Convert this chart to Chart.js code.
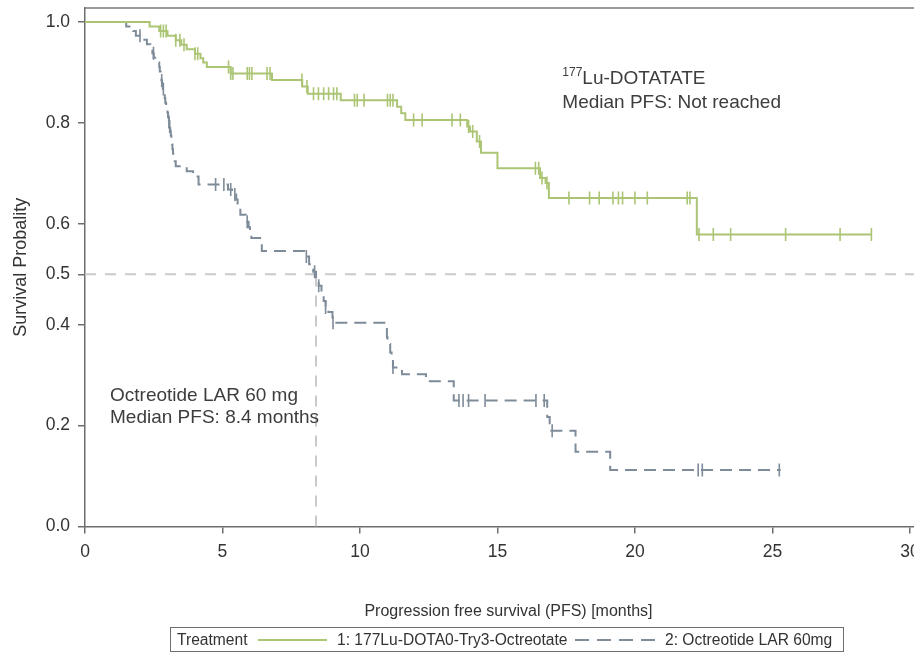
<!DOCTYPE html>
<html>
<head>
<meta charset="utf-8">
<title>Progression free survival</title>
<script src="https://cdn.jsdelivr.net/npm/chart.js@4.4.1/dist/chart.umd.min.js"></script>
<style>
    html, body { margin: 0; padding: 0; background: #fff; overflow: hidden; }
    #wrap { position: relative; width: 914px; height: 652px; overflow: hidden; }
    #kmChart { position: absolute; left: 0; top: 0; }
    #legend {
        position: absolute; left: 170px; top: 627px; width: 672px; height: 23px;
        border: 1px solid #6e6e6e;
        font: 15.6px "Liberation Sans", Arial, Helvetica, sans-serif; color: #333;
    }
    #legend span { position: absolute; top: 0; line-height: 23px; white-space: nowrap; }
    #legend .sw { top: 11px; height: 2px; }
</style>
</head>
<body>
<div id="wrap">
    <canvas id="kmChart" width="940" height="652"></canvas>
    <div id="legend">
        <span style="left:6px">Treatment</span>
        <span class="sw" id="swLu" style="left:87px; width:69px"></span>
        <span style="left:166px">1: 177Lu-DOTA0-Try3-Octreotate</span>
        <span class="sw" id="swOct" style="left:404px; width:84px"></span>
        <span style="left:494px">2: Octreotide LAR 60mg</span>
    </div>
</div>
<script>
const FONT = '"Liberation Sans", Arial, Helvetica, sans-serif';
const luColor = "#abc575";
const octColor = "#7e8b98";
const refColor = "#cacaca";

/* axes */
const xTicks = [0, 5, 10, 15, 20, 25, 30];
const yTicks = [0, 0.2, 0.4, 0.5, 0.6, 0.8, 1.0];
const xMax = 30.8;

/* 177Lu-DOTATATE arm: event times (months) and survival after each step */
const luTimes = [0, 2.35, 2.7, 3.0, 3.3, 3.5, 3.7, 4.0, 4.2, 4.3,
                 4.43, 5.3, 6.8, 7.9, 8.1, 9.3, 11.35, 11.5, 11.65, 13.9,
                 14.0, 14.25, 14.4, 15.0, 16.55, 16.75, 16.87, 22.25, 28.6];
const luSurv  = [1.0, 0.991, 0.982, 0.973, 0.964, 0.955, 0.946, 0.937, 0.928, 0.920,
                 0.911, 0.898, 0.885, 0.872, 0.858, 0.845, 0.832, 0.819, 0.806, 0.793,
                 0.783, 0.763, 0.741, 0.710, 0.691, 0.681, 0.651, 0.579, 0.579];
const luCensor = [2.75, 2.85, 2.95, 3.3, 3.45, 3.6, 4.0, 4.1, 5.22, 5.3, 5.38, 5.9, 5.98,
                  6.07, 6.62, 6.73, 7.89, 8.07, 8.31, 8.49, 8.68, 8.86, 9.04, 9.16, 9.8,
                  9.9, 10.15, 11.0, 11.1, 11.2, 11.95, 12.26, 13.35, 13.65, 13.95, 14.1,
                  14.35, 16.38, 16.5, 16.62, 16.8, 17.6, 18.35, 18.7, 19.2, 19.4, 19.55,
                  20.0, 20.45, 21.9, 22.0, 22.33, 22.85, 23.48, 25.48, 27.46, 28.6];

/* Octreotide LAR 60 mg arm */
const octTimes = [0, 1.5, 1.75, 1.85, 2.1, 2.25, 2.38, 2.45, 2.5,
                  2.65, 2.7, 2.72, 2.75, 2.78, 2.8, 2.83, 2.86, 2.9, 2.92, 2.95,
                  3.0, 3.02, 3.05, 3.08, 3.1, 3.12, 3.14, 3.16, 3.18, 3.2, 3.21, 3.22,
                  3.3, 3.7, 3.93, 4.13,
                  5.2, 5.35, 5.5, 5.55, 5.6, 5.65, 5.85, 5.95, 6.0, 6.05, 6.43,
                  8.05, 8.15, 8.3, 8.4, 8.5, 8.6, 8.68, 8.75, 8.85, 9.0,
                  10.98, 11.0, 11.1, 11.15, 11.2, 11.53, 12.4, 13.41,
                  16.81, 16.9, 17.84, 19.1, 25.3];
const octSurv  = [1.0, 0.991, 0.982, 0.973, 0.965, 0.956, 0.947, 0.938, 0.929,
                  0.920, 0.911, 0.902, 0.893, 0.884, 0.876, 0.867, 0.858, 0.849, 0.840, 0.831,
                  0.820, 0.811, 0.802, 0.793, 0.784, 0.775, 0.766, 0.757, 0.748, 0.739, 0.731, 0.724,
                  0.714, 0.704, 0.694, 0.678,
                  0.668, 0.658, 0.648, 0.638, 0.628, 0.618, 0.604, 0.593, 0.582, 0.572, 0.546,
                  0.535, 0.520, 0.505, 0.490, 0.477, 0.462, 0.447, 0.434, 0.425, 0.404,
                  0.375, 0.362, 0.345, 0.330, 0.315, 0.302, 0.288, 0.250,
                  0.217, 0.190, 0.148, 0.112, 0.112];
const octCensor = [2.0, 2.49, 2.79, 2.85, 3.05, 3.08, 4.75, 5.05, 5.3, 5.45, 5.9, 8.05,
                   8.35, 8.5, 8.75, 9.02, 11.2, 13.6, 13.75, 13.95, 14.55, 16.4, 16.7,
                   16.99, 22.3, 22.45, 25.25];

const medianLevel = 0.5;
const octMedian = 8.4;

// value of a step curve at time t
function stepAt(times, surv, t) {
    let v = surv[0];
    for (let i = 0; i < times.length; i++) {
        if (times[i] <= t) v = surv[i];
    }
    return v;
}

function toPoints(times, surv) {
    return times.map((t, i) => ({ x: t, y: surv[i] }));
}

function censorPoints(times, surv, cens) {
    return cens.map(t => ({ x: t, y: stepAt(times, surv, t) }));
}

/* legend swatches */
document.getElementById("swLu").style.background = luColor;
document.getElementById("swOct").style.background =
    "repeating-linear-gradient(to right, " + octColor + " 0 14px, transparent 14px 22px)";

/*
| Text notes + frame
*/
const notesPlugin = {
    id: "kmNotes",
    afterDraw(chart) {
        const { ctx, chartArea, scales } = chart;
        const x = scales.x, y = scales.y;

        ctx.save();
        ctx.strokeStyle = "#7a7a7a";
        ctx.lineWidth = 1.5;
        ctx.beginPath();
        ctx.moveTo(chartArea.left, chartArea.top);
        ctx.lineTo(chartArea.right, chartArea.top);
        ctx.lineTo(chartArea.right, chartArea.bottom);
        ctx.stroke();

        ctx.fillStyle = "#3d3d3d";
        ctx.textAlign = "left";
        ctx.textBaseline = "alphabetic";

        let px = x.getPixelForValue(17.36);
        let py = y.getPixelForValue(0.8776);
        ctx.font = "12px " + FONT;
        ctx.fillText("177", px, py - 8);
        const w = ctx.measureText("177").width;
        ctx.font = "19px " + FONT;
        ctx.fillText("Lu-DOTATATE", px + w, py);
        ctx.fillText("Median PFS: Not reached", px, y.getPixelForValue(0.830));

        px = x.getPixelForValue(0.91);
        ctx.fillText("Octreotide LAR 60 mg", px, y.getPixelForValue(0.248));
        ctx.fillText("Median PFS: 8.4 months", px, y.getPixelForValue(0.205));
        ctx.restore();
    }
};

Chart.defaults.font.family = FONT;
Chart.defaults.color = "#333";

const kmCanvas = document.getElementById("kmChart");

new Chart(kmCanvas, {
    type: "line",
    data: {
        datasets: [
            {
                label: "1: 177Lu-DOTA0-Try3-Octreotate",
                data: toPoints(luTimes, luSurv),
                stepped: "before",
                borderColor: luColor,
                borderWidth: 2,
                pointRadius: 0,
                fill: false
            },
            {
                label: "177Lu censored",
                data: censorPoints(luTimes, luSurv, luCensor),
                showLine: false,
                pointStyle: "line",
                pointRotation: 90,
                pointRadius: 6.5,
                pointBorderWidth: 1.6,
                pointBorderColor: luColor,
                borderColor: luColor
            },
            {
                label: "2: Octreotide LAR 60mg",
                data: toPoints(octTimes, octSurv),
                stepped: "before",
                borderColor: octColor,
                borderWidth: 2,
                borderDash: [12, 7],
                pointRadius: 0,
                fill: false
            },
            {
                label: "Octreotide censored",
                data: censorPoints(octTimes, octSurv, octCensor),
                showLine: false,
                pointStyle: "line",
                pointRotation: 90,
                pointRadius: 6.5,
                pointBorderWidth: 1.6,
                pointBorderColor: octColor,
                borderColor: octColor
            },
            {
                label: "median level",
                data: [{ x: 0, y: medianLevel }, { x: xMax, y: medianLevel }],
                borderColor: refColor,
                borderWidth: 2,
                borderDash: [11, 9],
                pointRadius: 0
            },
            {
                label: "median time",
                data: [{ x: octMedian, y: 0 }, { x: octMedian, y: medianLevel }],
                borderColor: refColor,
                borderWidth: 2,
                borderDash: [11, 9],
                pointRadius: 0
            }
        ]
    },
    options: {
        responsive: false,
        animation: false,
        layout: { padding: { top: 5, right: 3, bottom: 0, left: 0 } },
        plugins: {
            legend: { display: false },
            tooltip: { enabled: false }
        },
        scales: {
            x: {
                type: "linear",
                min: 0,
                max: xMax,
                afterBuildTicks: scale => { scale.ticks = xTicks.map(v => ({ value: v })); },
                afterFit: scale => {
                    scale.height = 125.5;
                    scale.paddingLeft = 0;
                    scale.paddingRight = 0;
                },
                ticks: {
                    font: { size: 17.5 },
                    color: "#333",
                    padding: 8,
                    maxRotation: 0
                },
                grid: { drawOnChartArea: false, tickLength: 7, color: "#6e6e6e", lineWidth: 1.5 },
                border: { color: "#6e6e6e", width: 1.5 },
                title: {
                    display: true,
                    text: "Progression free survival (PFS) [months]",
                    font: { size: 16 },
                    color: "#333",
                    padding: { top: 0, bottom: 31 }
                }
            },
            y: {
                type: "linear",
                min: 0,
                max: 1.0276,
                afterBuildTicks: scale => { scale.ticks = yTicks.map(v => ({ value: v })); },
                afterFit: scale => {
                    scale.width = 85;
                    scale.paddingTop = 0;
                    scale.paddingBottom = 0;
                },
                ticks: {
                    font: { size: 17.5 },
                    color: "#333",
                    padding: 8,
                    callback: v => Number(v).toFixed(1)
                },
                grid: { drawOnChartArea: false, tickLength: 7, color: "#6e6e6e", lineWidth: 1.5 },
                border: { color: "#6e6e6e", width: 1.5 },
                title: {
                    display: true,
                    text: "Survival Probality",
                    font: { size: 18 },
                    color: "#333",
                    padding: { top: 10, bottom: 0 }
                }
            }
        }
    },
    plugins: [notesPlugin]
});
</script>
</body>
</html>
